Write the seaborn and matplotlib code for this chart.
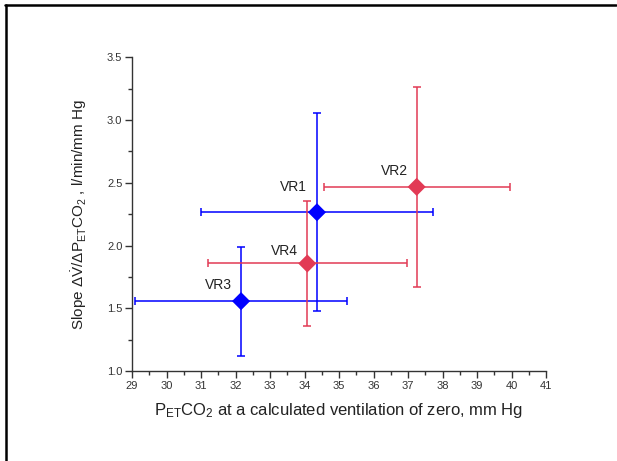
import matplotlib
matplotlib.use("Agg")
import matplotlib.pyplot as plt
import seaborn as sns
import pandas as pd
from matplotlib.lines import Line2D
from matplotlib.ticker import MultipleLocator

# Data
labels = ["VR1", "VR2", "VR3", "VR4"]
x_vals = [34.36, 37.25, 32.16, 34.08]
y_vals = [2.265, 2.467, 1.557, 1.857]
x_err = [3.35, 2.70, 3.07, 2.88]
y_err = [0.79, 0.795, 0.435, 0.495]
groups = ["blue", "red", "blue", "red"]
label_x = [33.67, 36.60, 31.50, 33.43]
label_y = [2.465, 2.59, 1.685, 1.96]

colors = {"blue": "#0000FF", "red": "#E23A55"}

sns.set_style("white")
plt.rcParams['font.family'] = ['Liberation Sans', 'DejaVu Sans']
plt.rcParams['mathtext.fontset'] = 'custom'
plt.rcParams['mathtext.rm'] = 'Liberation Sans'
plt.rcParams['mathtext.it'] = 'Liberation Sans'
plt.rcParams['mathtext.bf'] = 'Liberation Sans:bold'

df = pd.DataFrame({"label": labels, "x": x_vals, "y": y_vals,
                   "xerr": x_err, "yerr": y_err, "group": groups})

fig = plt.figure(figsize=(6.17, 4.61), dpi=100)
ax = fig.add_axes([0.214, 0.195, 0.671, 0.681])

for _, r in df.iterrows():
    ax.errorbar(r.x, r.y, xerr=r.xerr, yerr=r.yerr, fmt='none',
                ecolor=colors[r.group], elinewidth=1.1, capsize=3, capthick=1.1, zorder=2)

sns.scatterplot(data=df, x="x", y="y", hue="group", palette=colors, marker="D",
                s=85, edgecolor="none", legend=False, ax=ax, zorder=3)

for lab, lx, ly in zip(labels, label_x, label_y):
    ax.text(lx, ly, lab, ha='center', va='center', fontsize=10, color='#222222')

ax.set_xlim(29, 41)
ax.set_ylim(1.0, 3.5)
ax.xaxis.set_minor_locator(MultipleLocator(0.5))
ax.yaxis.set_minor_locator(MultipleLocator(0.25))
ax.set_xticks([29, 30, 31, 32, 33, 34, 35, 36, 37, 38, 39, 40, 41])
ax.set_xticklabels([str(v) for v in range(29, 42)])
ax.set_yticks([1.0, 1.5, 2.0, 2.5, 3.0, 3.5])
ax.set_yticklabels(["1.0", "1.5", "2.0", "2.5", "3.0", "3.5"])

for s in ['top', 'right']:
    ax.spines[s].set_visible(False)
for s in ['left', 'bottom']:
    ax.spines[s].set_color('#333333')
    ax.spines[s].set_linewidth(1.0)

ax.tick_params(which='major', direction='out', length=5, width=1, color='#333333',
               labelsize=8, labelcolor='#333333', pad=2, left=True, bottom=True)
ax.tick_params(which='minor', direction='out', length=3, width=1, color='#333333',
               left=True, bottom=True)

ax.set_xlabel(r'P$_{\mathrm{ET}}$CO$_{\mathrm{2}}$ at a calculated ventilation of zero, mm Hg',
              fontsize=12, color='#222222', labelpad=7)
ax.set_ylabel(r'Slope $\Delta\dot{\mathrm{V}}/\Delta\mathrm{P}_{\mathrm{ET}}\mathrm{CO}_{\mathrm{2}}$ , l/min/mm Hg',
              fontsize=11, color='#222222', labelpad=13)

# figure border (top and left)
fig.add_artist(Line2D([5/617, 616/617], [1 - 5.5/461, 1 - 5.5/461], transform=fig.transFigure,
                      color='black', linewidth=1.8))
fig.add_artist(Line2D([6/617, 6/617], [0, 1 - 5.5/461], transform=fig.transFigure,
                      color='black', linewidth=1.8))

fig.savefig("out.png", dpi=100)
